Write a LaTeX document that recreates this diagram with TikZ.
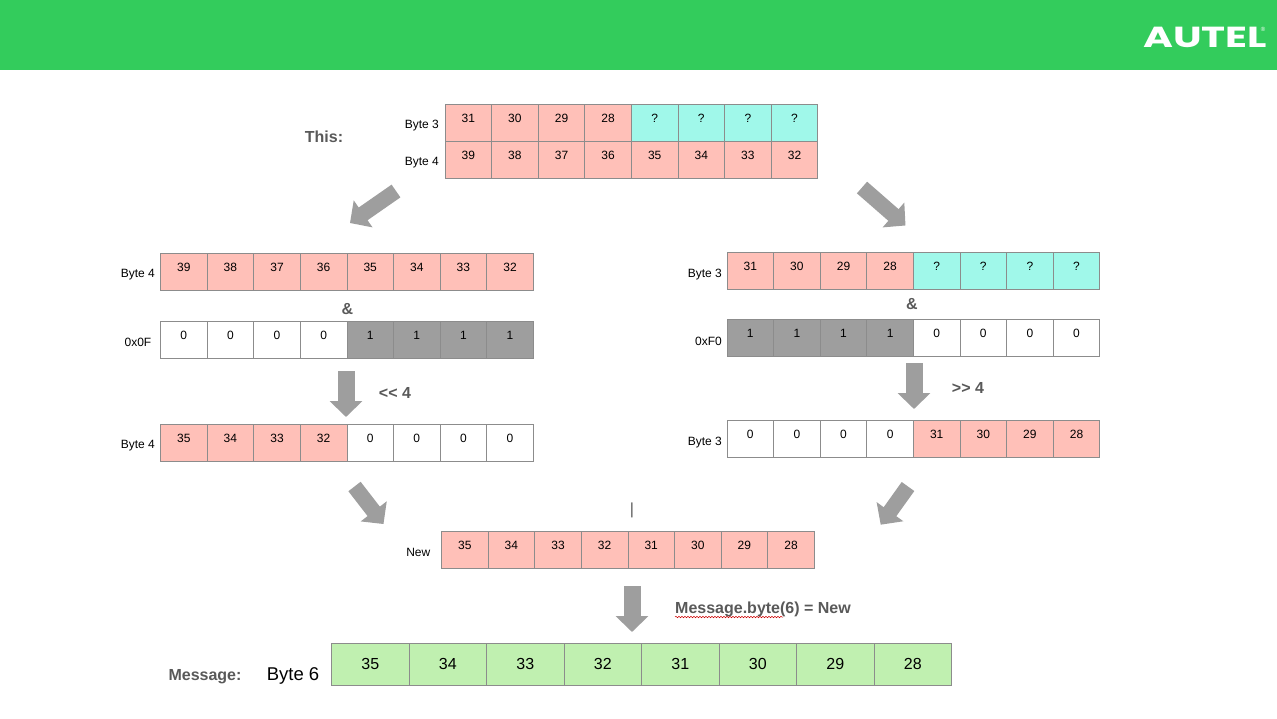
\documentclass[tikz,border=0pt]{standalone}
\usepackage{fontspec}
\setmainfont{Liberation Sans}
\newfontfamily\logofont{Poppins}
\usetikzlibrary{positioning,arrows.meta,decorations.pathmorphing}

\definecolor{headgreen}{RGB}{51,204,92}
\definecolor{pinkc}{RGB}{255,192,184}
\definecolor{cyanc}{RGB}{160,248,234}
\definecolor{grayc}{RGB}{158,158,158}
\definecolor{greenc}{RGB}{192,240,176}
\definecolor{textgray}{RGB}{89,89,89}

% one row of cells: name, left edge, top edge, value/colour list
\newcommand{\cellrow}[4]{
	\foreach \val/\col [count=\i] in {#4}
		\node[cell, fill=\col] (#1-\i) at ({#2+(\i-0.5)*46.6},{#3+18.5}) {\val};
}
\newcommand{\msgrow}[4]{
	\foreach \val/\col [count=\i] in {#4}
		\node[msgcell, fill=\col] (#1-\i) at ({#2+(\i-0.5)*77.5},{#3+21}) {\val};
}

\begin{document}
\begin{tikzpicture}[x=1pt, y=-1pt,
	cell/.style={draw=black!45, line width=0.8pt, minimum width=46.6pt, minimum height=37pt, inner sep=0pt, outer sep=0pt, font=\fontsize{12}{14}\selectfont, text height=9pt, text depth=9pt},
	msgcell/.style={draw=black!45, line width=0.8pt, minimum width=77.5pt, minimum height=42pt, inner sep=0pt, outer sep=0pt, font=\fontsize{16}{18}\selectfont, text height=14pt, text depth=4pt},
	bytelabel/.style={inner sep=0pt, yshift=-3pt, font=\fontsize{12}{14}\selectfont},
	boldlabel/.style={inner sep=0pt, text=textgray, font=\fontsize{16}{18}\selectfont\bfseries},
	blockarrow/.style={draw=grayc, -{Triangle[length=16pt,width=32pt,sep=0pt]}}]
	\useasboundingbox (0,0) rectangle (1277,718);

	% header
	\fill[headgreen] (0,0) rectangle (1277,70);
	\node[inner sep=0pt, text=white, xscale=1.4, font=\fontsize{29}{30}\logofont\bfseries] (logo) at (1205,37) {AUTEL};
	\node[inner sep=0pt, text=white, font=\fontsize{6}{7}\selectfont] (regmark) at (1263,29) {®};

	% source bytes
	\cellrow{topa}{445}{104}{31/pinkc,30/pinkc,29/pinkc,28/pinkc,?/cyanc,?/cyanc,?/cyanc,?/cyanc}
	\cellrow{topb}{445}{141}{39/pinkc,38/pinkc,37/pinkc,36/pinkc,35/pinkc,34/pinkc,33/pinkc,32/pinkc}
	\node[bytelabel, left=6pt of topa-1] (toplaba) {Byte 3};
	\node[bytelabel, left=6pt of topb-1] (toplabb) {Byte 4};
	\node[boldlabel] (this) at (324,137) {This:};

	% left branch
	\cellrow{lefta}{160.5}{253}{39/pinkc,38/pinkc,37/pinkc,36/pinkc,35/pinkc,34/pinkc,33/pinkc,32/pinkc}
	\cellrow{leftb}{160.5}{321}{0/white,0/white,0/white,0/white,1/grayc,1/grayc,1/grayc,1/grayc}
	\cellrow{leftc}{160.5}{424}{35/pinkc,34/pinkc,33/pinkc,32/pinkc,0/white,0/white,0/white,0/white}
	\node[bytelabel, left=5.5pt of lefta-1] (leftlaba) {Byte 4};
	\node[bytelabel, left=9pt of leftb-1] (leftlabb) {0x0F};
	\node[bytelabel, left=5.5pt of leftc-1] (leftlabc) {Byte 4};
	\node[boldlabel] (leftand) at (347.5,309) {\&};
	\node[boldlabel] (leftshift) at (395,393) {<{}< 4};

	% right branch
	\cellrow{righta}{727}{252}{31/pinkc,30/pinkc,29/pinkc,28/pinkc,?/cyanc,?/cyanc,?/cyanc,?/cyanc}
	\cellrow{rightb}{727}{319}{1/grayc,1/grayc,1/grayc,1/grayc,0/white,0/white,0/white,0/white}
	\cellrow{rightc}{727}{420}{0/white,0/white,0/white,0/white,31/pinkc,30/pinkc,29/pinkc,28/pinkc}
	\node[bytelabel, yshift=-1pt, left=5pt of righta-1] (rightlaba) {Byte 3};
	\node[bytelabel, yshift=-1pt, left=5pt of rightb-1] (rightlabb) {0xF0};
	\node[bytelabel, yshift=-1pt, left=5pt of rightc-1] (rightlabc) {Byte 3};
	\node[boldlabel] (rightand) at (912,304) {\&};
	\node[boldlabel] (rightshift) at (968,388) {>{}> 4};

	% result
	\node[boldlabel, font=\fontsize{16}{18}\selectfont] (orbar) at (632,510) {|};
	\cellrow{new}{441.5}{531}{35/pinkc,34/pinkc,33/pinkc,32/pinkc,31/pinkc,30/pinkc,29/pinkc,28/pinkc}
	\node[bytelabel, left=11pt of new-1] (newlab) {New};

	% message
	\msgrow{msg}{331.5}{643}{35/greenc,34/greenc,33/greenc,32/greenc,31/greenc,30/greenc,29/greenc,28/greenc}
	\node[inner sep=0pt, yshift=-12pt, font=\fontsize{18.5}{20}\selectfont, left=12pt of msg-1] (msglab) {Byte 6};
	\node[boldlabel] (message) at (205,676.5) {Message:};
	\node[boldlabel, anchor=west] (assign) at (675,609) {Message.byte(6) = New};
	\draw[red!80!black, line width=0.5pt, decorate, decoration={snake, amplitude=0.7pt, segment length=3pt}] (675,617) -- (783,617);

	% arrows
	\coordinate (a1) at (396,191);  \coordinate (a2) at (350,223);
	\coordinate (b1) at (862,187.5);  \coordinate (b2) at (905.5,225.5);
	\coordinate (c1) at (346,371);  \coordinate (c2) at (346,417);
	\coordinate (d1) at (914,363);  \coordinate (d2) at (914,409);
	\coordinate (e1) at (354.5,486.5);  \coordinate (e2) at (383.5,524);
	\coordinate (f1) at (908,486.5);  \coordinate (f2) at (880.7,524.7);
	\coordinate (g1) at (632,586);  \coordinate (g2) at (632,632);
	\foreach \from/\to/\wid in {a1/a2/15.5,b1/b2/15.5,c1/c2/17,d1/d2/17,e1/e2/15.5,f1/f2/15.5,g1/g2/17}
		\draw[blockarrow, line width=\wid pt] (\from) -- (\to);
\end{tikzpicture}
\end{document}
